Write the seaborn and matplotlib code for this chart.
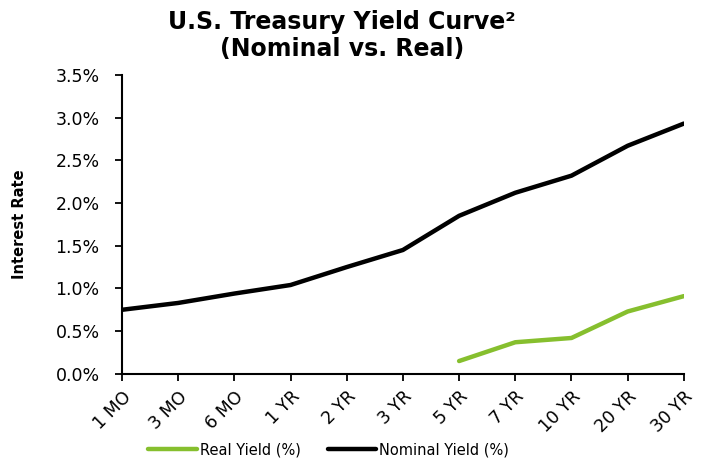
import pandas as pd
import matplotlib
matplotlib.use("Agg")
import matplotlib.pyplot as plt
import seaborn as sns
from matplotlib.ticker import PercentFormatter

# Data
maturities = ['1 MO', '3 MO', '6 MO', '1 YR', '2 YR', '3 YR',
              '5 YR', '7 YR', '10 YR', '20 YR', '30 YR']
nominal_yield = [0.75, 0.83, 0.94, 1.04, 1.25, 1.45, 1.85, 2.12, 2.32, 2.67, 2.93]
real_maturities = ['5 YR', '7 YR', '10 YR', '20 YR', '30 YR']
real_yield = [0.15, 0.37, 0.42, 0.73, 0.91]

df = pd.concat([
    pd.DataFrame({'Maturity': real_maturities, 'Yield': real_yield,
                  'Series': 'Real Yield (%)'}),
    pd.DataFrame({'Maturity': maturities, 'Yield': nominal_yield,
                  'Series': 'Nominal Yield (%)'}),
])
df['Maturity'] = pd.Categorical(df['Maturity'], categories=maturities, ordered=True)
df['pos'] = df['Maturity'].cat.codes

sns.set_style('white')
plt.rcParams['font.family'] = ['DejaVu Sans']
plt.rcParams['text.color'] = 'black'
plt.rcParams['axes.labelcolor'] = 'black'
plt.rcParams['xtick.color'] = 'black'
plt.rcParams['ytick.color'] = 'black'

fig = plt.figure(figsize=(7.05, 4.65), dpi=100)
ax = fig.add_axes([0.173, 0.196, 0.797, 0.643])

sns.lineplot(data=df, x='pos', y='Yield', hue='Series',
             palette={'Real Yield (%)': '#86BF2E', 'Nominal Yield (%)': '#000000'},
             linewidth=3.2, ax=ax, legend=True)

ax.set_xlim(0, len(maturities) - 1)
ax.set_ylim(0, 3.5)
ax.set_yticks([0, 0.5, 1.0, 1.5, 2.0, 2.5, 3.0, 3.5])
ax.yaxis.set_major_formatter(PercentFormatter(decimals=1))
ax.set_xticks(range(len(maturities)))
ax.set_xticklabels(maturities, rotation=45, ha='right', rotation_mode='anchor')
ax.tick_params(axis='both', direction='out', length=5, width=1.3, color='black',
               labelsize=12.5, bottom=True, left=True)
ax.tick_params(axis='y', pad=11)
ax.tick_params(axis='x', pad=5)
for side in ['top', 'right']:
    ax.spines[side].set_visible(False)
for side in ['left', 'bottom']:
    ax.spines[side].set_color('black')
    ax.spines[side].set_linewidth(1.5)

ax.set_xlabel('')
ax.set_ylabel('Interest Rate', fontsize=10.5, fontweight='bold')
ax.yaxis.set_label_coords(-0.169, 0.5)

leg = ax.legend(loc='upper center', bbox_to_anchor=(0.368, -0.185), ncol=2,
                frameon=False, fontsize=10.5, handlelength=3.3,
                columnspacing=1.9, handletextpad=0.2)

fig.text(0.485, 0.978, 'U.S. Treasury Yield Curve²\n(Nominal vs. Real)',
         ha='center', va='top', fontsize=17, fontweight='bold', linespacing=1.15)

fig.savefig('out.png', dpi=100)
